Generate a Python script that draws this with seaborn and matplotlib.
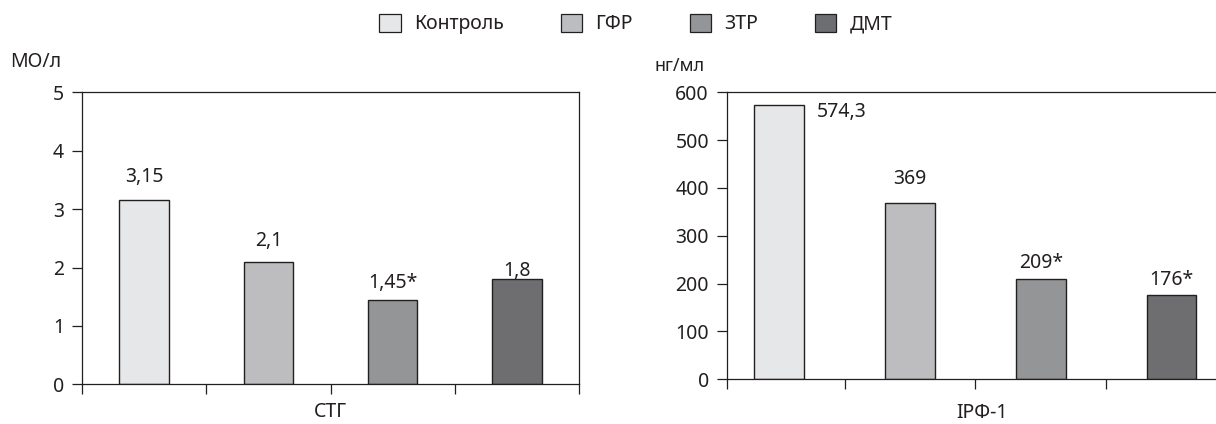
import numpy as np
import pandas as pd
import seaborn as sns
from matplotlib import pyplot as plt
from matplotlib.patches import Patch

# data
groups = ['Контроль', 'ГФР', 'ЗТР', 'ДМТ']
stg_values = [3.15, 2.1, 1.45, 1.8]
stg_labels = ['3,15', '2,1', '1,45*', '1,8']
igf_values = [574.3, 369, 209, 176]
igf_labels = ['574,3', '369', '209*', '176*']
bar_colors = ['#e6e7e8', '#bcbdc0', '#939598', '#6d6e71']

sns.set_style('ticks')
plt.rcParams['font.family'] = ['Noto Sans', 'DejaVu Sans']
edge = '#231f20'
plt.rcParams['axes.edgecolor'] = edge
plt.rcParams['xtick.color'] = edge
plt.rcParams['ytick.color'] = edge
plt.rcParams['text.color'] = edge
plt.rcParams['axes.labelcolor'] = edge

W, H = 1216, 424
fig = plt.figure(figsize=(W / 100, H / 100), dpi=100)

def fx(px):
    return px / W

def fy(px):
    return 1 - px / H

ax1 = fig.add_axes([fx(82), fy(384.3), fx(579 - 82), (384.3 - 92.3) / H])
ax2 = fig.add_axes([fx(727), fy(379.3), fx(1237 - 727), (379.3 - 92.3) / H])

stg_df = pd.DataFrame({'group': groups, 'value': stg_values})
igf_df = pd.DataFrame({'group': groups, 'value': igf_values})
pal = dict(zip(groups, bar_colors))

sns.barplot(data=stg_df, x='group', y='value', hue='group', palette=pal,
            order=groups, width=0.4, edgecolor=edge, linewidth=1.0,
            legend=False, ax=ax1)
sns.barplot(data=igf_df, x='group', y='value', hue='group', palette=pal,
            order=groups, width=0.38, edgecolor=edge, linewidth=1.0,
            legend=False, ax=ax2)

#%% axes styling
for ax in (ax1, ax2):
    for s in ax.spines.values():
        s.set_visible(True)
        s.set_linewidth(0.9)
    ax.tick_params(axis='y', direction='out', length=7, width=0.9,
                   labelsize=14, pad=6)
    ax.tick_params(axis='x', direction='out', length=7, width=0.9,
                   labelbottom=False)
    ax.set_ylabel('')

ax1.set_xlim(-0.5, 3.5)
ax1.set_xticks([-0.5, 0.5, 1.5, 2.5, 3.5])
ax1.set_ylim(0, 5)
ax1.set_yticks(range(0, 6))
ax1.set_xlabel('СТГ', fontsize=14, labelpad=6)

ax2.set_xlim(-0.4, 3.5)
ax2.set_xticks([-0.4, 0.5, 1.5, 2.5, 3.5])
ax2.set_ylim(0, 600)
ax2.set_yticks(range(0, 700, 100))
ax2.set_xlabel('IРФ-1', fontsize=14, labelpad=10)

#%% value labels
stg_offsets = [17, 15, 12, 6]
for i, (v, lab) in enumerate(zip(stg_values, stg_labels)):
    ax1.annotate(lab, (i, v), xytext=(0, stg_offsets[i]),
                 textcoords='offset points', ha='center', va='center',
                 fontsize=14)

igf_offsets = [None, 17, 12, 11]
for i, (v, lab) in enumerate(zip(igf_values, igf_labels)):
    if i == 0:
        ax2.annotate(lab, (i + 0.19, v), xytext=(9, -5),
                     textcoords='offset points', ha='left', va='center',
                     fontsize=14)
    else:
        ax2.annotate(lab, (i, v), xytext=(0, igf_offsets[i]),
                     textcoords='offset points', ha='center', va='center',
                     fontsize=14)

#%% units
fig.text(fx(10), fy(62), 'МО/л', fontsize=14, ha='left', va='center')
fig.text(fx(655), fy(66), 'нг/мл', fontsize=13, ha='left', va='center')

#%% legend
handles = [Patch(facecolor=c, edgecolor=edge, linewidth=0.9) for c in bar_colors]
fig.legend(handles, groups, loc='center', bbox_to_anchor=(fx(636), fy(24)),
           ncol=4, frameon=False, fontsize=14, handlelength=1.1,
           handleheight=1.1, handletextpad=0.7, columnspacing=2.9)

plt.savefig('out.png', dpi=100)
